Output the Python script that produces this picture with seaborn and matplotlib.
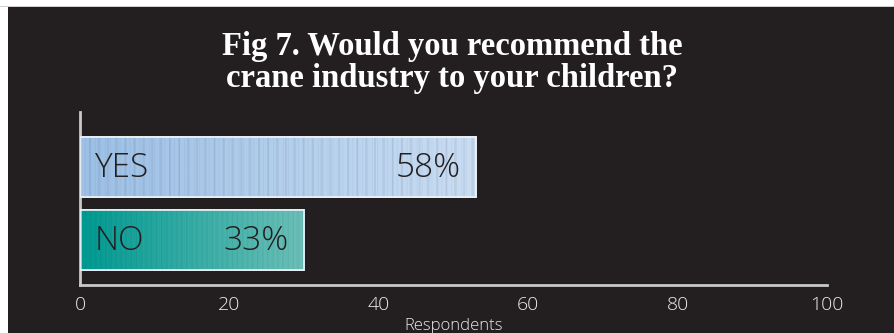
import numpy as np
import pandas as pd
import matplotlib
matplotlib.use("Agg")
import matplotlib.pyplot as plt
from matplotlib.patches import Rectangle
from matplotlib.colors import LinearSegmentedColormap
import seaborn as sns

# Survey answers: respondent counts and the share each answer got
answers = ["YES", "NO"]
respondents = [53, 30]
share_labels = ["58%", "33%"]
x_ticks = [0, 20, 40, 60, 80, 100]

BG = "#231f20"
TEXT_DARK = "#231f20"
TEXT_LIGHT = "#ececec"
AXIS_GREY = "#c9c9c9"
gradients = {
    "YES": ("#9cc0e6", "#c9ddf3"),
    "NO": ("#009b93", "#6cc1b9"),
}

sns.set_theme(style="dark")
plt.rcParams["font.family"] = ["Open Sans", "DejaVu Sans"]

W, H = 894, 333
fig = plt.figure(figsize=(W / 100, H / 100), dpi=100, facecolor="white")
# dark panel with a thin white margin at the top and left
fig.patches.append(Rectangle((8 / W, 0), 1 - 8 / W, 1 - 7 / H,
                             transform=fig.transFigure, facecolor=BG,
                             edgecolor="none", zorder=-10))
fig.patches.append(Rectangle((0, 1 - 7 / H), 1, 1 / H,
                             transform=fig.transFigure, facecolor="#cfcfcf",
                             edgecolor="none", zorder=-9))

ax = fig.add_axes([80 / W, 1 - 285 / H, (827 - 80) / W, (285 - 112) / H])
ax.set_facecolor(BG)

df = pd.DataFrame({"answer": answers, "respondents": respondents})
sns.barplot(data=df, y="answer", x="respondents", orient="h", ax=ax,
            width=0.82, color="white", edgecolor="#f2f2f2", linewidth=1.2,
            zorder=2)

ax.set_xlim(0, 100)
ax.set_ylim(1.616, -0.753)

# gradient fill with fine vertical striping, clipped to each bar
for patch, ans in zip(ax.patches, answers):
    x0, y0 = patch.get_x(), patch.get_y()
    w, h = patch.get_width(), patch.get_height()
    c0, c1 = gradients[ans]
    cmap = LinearSegmentedColormap.from_list(ans, [c0, c1])
    n = 400
    t = np.linspace(0, 1, n)
    rgb = cmap(t)[:, :3]
    k = np.arange(n)
    stripes = 1 - 0.06 * ((k % 9) < 2) - 0.04 * ((k % 5) == 0)
    rgb = rgb * stripes[:, None]
    img = np.tile(rgb[None, :, :], (2, 1, 1))
    im = ax.imshow(img, extent=(x0, x0 + w, y0 + h, y0), aspect="auto",
                   interpolation="bilinear", zorder=2.5)
    im.set_clip_path(patch)
    outline = Rectangle((x0, y0), w, h, facecolor="none",
                        edgecolor="#eef3f8", linewidth=1.2, zorder=3)
    ax.add_patch(outline)

ax.set_ylim(1.616, -0.753)

# labels inside the bars
for i, (ans, val, lab) in enumerate(zip(answers, respondents, share_labels)):
    ax.text(2.0, i + 0.02, ans, va="center", ha="left", fontsize=24,
            color=TEXT_DARK, fontweight="light", zorder=4)
    ax.text(val - 2.0, i + 0.02, lab, va="center", ha="right", fontsize=24,
            color=TEXT_DARK, fontweight="light", zorder=4)

ax.set_xticks(x_ticks)
ax.set_xticklabels([str(v) for v in x_ticks], fontsize=14, color=TEXT_LIGHT,
                   fontweight="light")
ax.tick_params(axis="x", length=0, pad=8)
ax.set_yticks([])
ax.set_ylabel("")
ax.set_xlabel("Respondents", fontsize=12, color=TEXT_LIGHT,
              fontweight="light", labelpad=3)
ax.grid(False)
for side in ["top", "right"]:
    ax.spines[side].set_visible(False)
for side in ["left", "bottom"]:
    ax.spines[side].set_visible(True)
    ax.spines[side].set_color(AXIS_GREY)
    ax.spines[side].set_linewidth(2)

fig.text(452 / W, 1 - 47 / H, "Fig 7. Would you recommend the",
         ha="center", va="center", fontsize=23.5, fontweight="bold",
         family=["Liberation Serif", "DejaVu Serif"], color="white")
fig.text(452 / W, 1 - 79 / H, "crane industry to your children?",
         ha="center", va="center", fontsize=23.5, fontweight="bold",
         family=["Liberation Serif", "DejaVu Serif"], color="white")

fig.savefig("out.png", dpi=100, facecolor=fig.get_facecolor())
